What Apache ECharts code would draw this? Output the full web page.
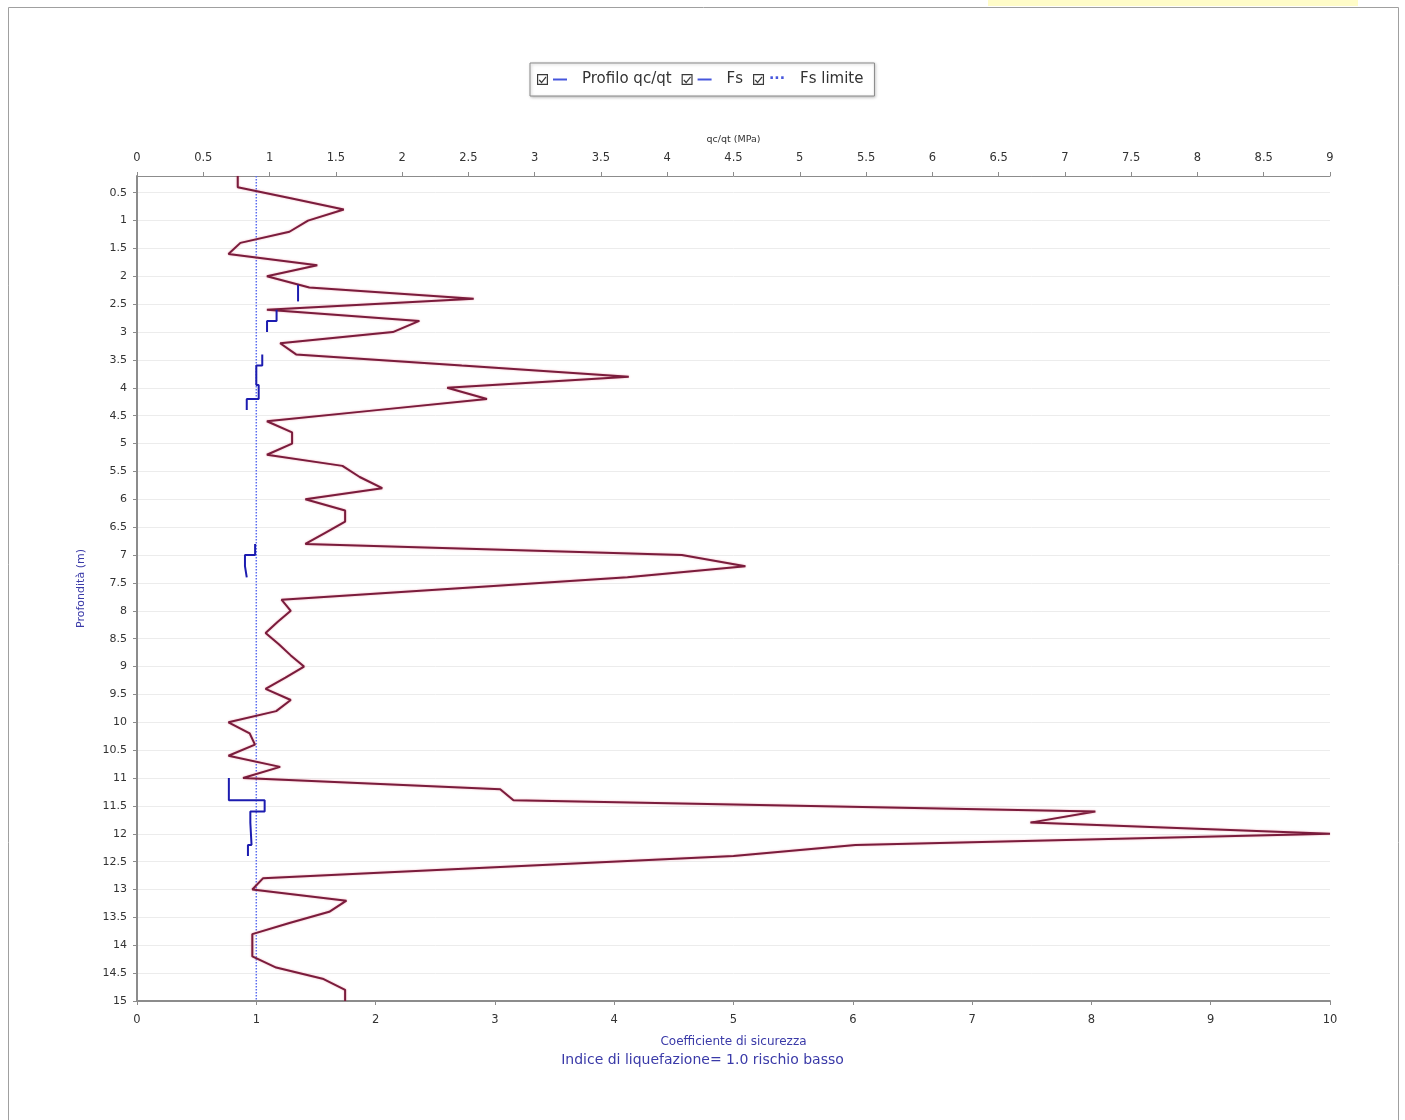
<!DOCTYPE html>
<html>
<head>
<meta charset="utf-8">
<script src="https://cdn.jsdelivr.net/npm/echarts@6/dist/echarts.min.js"></script>
<style>
html,body{margin:0;padding:0;background:#fff;}
#chart{width:1405px;height:1120px;}
</style>
</head>
<body>
<div id="chart"></div>
<script>
// Depth (m) of each CPT reading
const depth = [0.2,0.4,0.6,0.8,1.0,1.2,1.4,1.6,1.8,2.0,2.2,2.4,2.6,2.8,3.0,3.2,3.4,3.6,3.8,4.0,
  4.2,4.4,4.6,4.8,5.0,5.2,5.4,5.6,5.8,6.0,6.2,6.4,6.6,6.8,7.0,7.2,7.4,7.6,7.8,8.0,
  8.2,8.4,8.6,8.8,9.0,9.2,9.4,9.6,9.8,10.0,10.2,10.4,10.6,10.8,11.0,11.2,11.4,11.6,11.8,12.0,
  12.2,12.4,12.6,12.8,13.0,13.2,13.4,13.6,13.8,14.0,14.2,14.4,14.6,14.8,15.0];
// Profilo qc/qt (MPa)
const qcqt = [0.76,0.76,1.16,1.56,1.29,1.15,0.78,0.69,1.36,0.98,1.30,2.54,0.98,2.13,1.93,1.08,1.20,2.45,3.71,2.34,
  2.64,1.81,0.98,1.17,1.17,0.98,1.55,1.68,1.85,1.27,1.57,1.57,1.42,1.27,4.11,4.59,3.70,2.40,1.09,1.16,
  1.06,0.97,1.07,1.16,1.26,1.12,0.97,1.16,1.05,0.69,0.85,0.89,0.69,1.08,0.80,2.74,2.84,7.23,6.74,9.00,
  5.42,4.50,2.70,0.95,0.87,1.58,1.45,1.15,0.87,0.87,0.87,1.05,1.40,1.57,1.57];
// Fs (coefficiente di sicurezza) step segments: [Fs, depth]
const fsStep1 = [[1.35,2.15],[1.35,2.45]];
const fsStep2 = [[1.17,2.6],[1.17,2.8],[1.09,2.8],[1.09,3.0]];
const fsStep3 = [[1.05,3.4],[1.05,3.6],[1.0,3.6],[1.0,3.95],[1.02,3.95],[1.02,4.2],[0.92,4.2],[0.92,4.4]];
const fsStep4 = [[0.99,6.8],[0.99,7.0],[0.905,7.0],[0.905,7.2],[0.92,7.2],[0.92,7.4]];
const fsStep5 = [[0.77,11.0],[0.77,11.4],[1.07,11.4],[1.07,11.6],[0.95,11.6],[0.95,11.8],[0.96,11.8],[0.96,12.2],[0.93,12.2],[0.93,12.4]];
// Fs limite
const fsLimite = [[1,0.2],[1,15]];
// Tick labels
const fsTicks = [0,1,2,3,4,5,6,7,8,9,10];
const qcTicks = [0,0.5,1,1.5,2,2.5,3,3.5,4,4.5,5,5.5,6,6.5,7,7.5,8,8.5,9];

const chart = echarts.init(document.getElementById('chart'), null, {renderer:'canvas'});
const font = '"DejaVu Sans", Verdana, sans-serif';
const labelColor = '#333';
const blueText = '#3a3aa8';
const legendBlue = '#4656dc';

const checkbox = 'path://M0 0 H11 V11 H0 Z M1.2 1.2 V9.8 H9.8 V1.2 Z M2.6 5.6 L4.6 7.6 L8.6 2.6 L9.4 3.6 L4.6 9.4 L1.8 6.6 Z';

const fsSeries = [fsStep1, fsStep2, fsStep3, fsStep4, fsStep5].map(seg => ({
  name: 'Fs', type: 'line', xAxisIndex: 0, yAxisIndex: 0, data: seg,
  symbol: 'none', silent: true,
  lineStyle: {color: '#1c1cb0', width: 2}, itemStyle: {color: '#1c1cb0'}, z: 4
}));

const option = {
  backgroundColor: '#fff',
  animation: false,
  legend: {
    top: 63, left: 530,
    data: [
      {name: 'Profilo qc/qt', icon: checkbox, itemStyle: {color: '#3a3a3a'}},
      {name: 'Fs', icon: checkbox, itemStyle: {color: '#3a3a3a'}},
      {name: 'Fs limite', icon: checkbox, itemStyle: {color: '#3a3a3a'}}
    ],
    formatter: function (name) {
      const mark = name === 'Fs limite' ? '{dot|···}' : '{ln| }';
      return mark + '{sp| }' + name;
    },
    itemWidth: 11, itemHeight: 11, itemGap: 10,
    borderColor: '#8a8a8a', borderWidth: 1, padding: [8, 11, 8, 7],
    shadowColor: 'rgba(0,0,0,0.25)', shadowBlur: 3, shadowOffsetX: 1, shadowOffsetY: 1,
    backgroundColor: '#fff',
    selectedMode: false,
    textStyle: {
      fontFamily: font, fontSize: 15, color: '#333', lineHeight: 17,
      rich: {
        ln: {width: 14, height: 2, backgroundColor: legendBlue, fontSize: 2, lineHeight: 2},
        dot: {width: 16, color: legendBlue, fontFamily: font, fontSize: 14, lineHeight: 14, fontWeight: 'bold'},
        sp: {width: 15, fontSize: 2, lineHeight: 2}
      }
    }
  },
  grid: {left: 137, right: 75, top: 176, bottom: 119, containLabel: false, show: false},
  xAxis: [
    {
      type: 'value', position: 'bottom', min: fsTicks[0], max: fsTicks[fsTicks.length-1], interval: 1,
      name: 'Coefficiente di sicurezza', nameLocation: 'middle', nameGap: 35,
      nameTextStyle: {color: blueText, fontFamily: font, fontSize: 12},
      axisLine: {show: true, lineStyle: {color: '#8c8c8c', width: 2}},
      axisTick: {show: true, length: 4, lineStyle: {color: '#8c8c8c'}},
      axisLabel: {color: labelColor, fontFamily: font, fontSize: 11.5, margin: 13},
      splitLine: {show: false}
    },
    {
      type: 'value', position: 'top', min: qcTicks[0], max: qcTicks[qcTicks.length-1], interval: 0.5,
      name: 'qc/qt (MPa)', nameLocation: 'middle', nameGap: 31,
      nameTextStyle: {color: '#333', fontFamily: font, fontSize: 9.5},
      axisLine: {show: true, lineStyle: {color: '#8c8c8c', width: 1}},
      axisTick: {show: true, length: 4, lineStyle: {color: '#8c8c8c'}},
      axisLabel: {color: labelColor, fontFamily: font, fontSize: 11.5, margin: 12},
      splitLine: {show: false}
    }
  ],
  yAxis: [{
    type: 'value', inverse: true, min: 0.2, max: 15, minInterval: 0.5, maxInterval: 0.5, splitNumber: 30,
    name: 'Profondità (m)', nameLocation: 'middle', nameGap: 50, nameRotate: 90,
    nameTextStyle: {color: blueText, fontFamily: font, fontSize: 11},
    axisLine: {show: true, lineStyle: {color: '#8c8c8c', width: 2}},
    axisTick: {show: true, length: 4, lineStyle: {color: '#8c8c8c'}},
    axisLabel: {color: labelColor, fontFamily: font, fontSize: 11, margin: 10, showMinLabel: false},
    splitLine: {show: true, lineStyle: {color: '#ececec', width: 1}}
  }],
  series: [
    {
      name: 'Profilo qc/qt', type: 'line', xAxisIndex: 1, yAxisIndex: 0,
      data: depth.map((d, i) => [qcqt[i], d]),
      symbol: 'none', silent: true,
      lineStyle: {color: '#7a1c3c', width: 2, shadowColor: 'rgba(220,60,90,0.45)', shadowBlur: 2},
      itemStyle: {color: '#7a1c3c'}, z: 3
    },
    ...fsSeries,
    {
      name: 'Fs limite', type: 'line', xAxisIndex: 0, yAxisIndex: 0, data: fsLimite,
      symbol: 'none', silent: true,
      lineStyle: {color: '#5a6cf0', width: 1.5, type: 'dotted'}, itemStyle: {color: '#5a6cf0'}, z: 2
    }
  ],
  graphic: [
    {type: 'rect', shape: {x: 8.5, y: 7.5, width: 1390, height: 1130}, style: {fill: 'none', stroke: '#a0a0a0', lineWidth: 1}, z: -1, silent: true},
    {type: 'rect', shape: {x: 988, y: 0, width: 370, height: 6}, style: {fill: '#fffcc8'}, silent: true},
    {type: 'text', left: 'center', top: 1053, style: {text: 'Indice di liquefazione= 1.0 rischio basso', fill: blueText, font: '14px ' + font}, silent: true}
  ]
};
chart.setOption(option);
</script>
</body>
</html>
